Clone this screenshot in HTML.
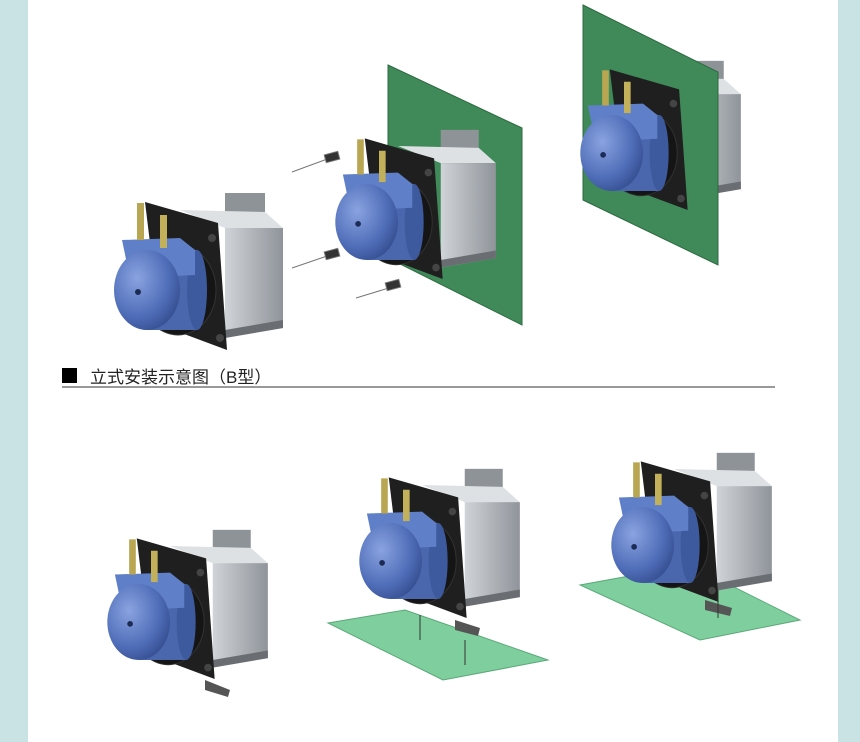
<!DOCTYPE html>
<html><head><meta charset="utf-8"><style>
html,body{margin:0;padding:0;width:860px;height:742px;background:#fff;overflow:hidden;font-family:"Liberation Sans","Noto Sans CJK SC",sans-serif}
</style></head><body>
<svg width="860" height="742" viewBox="0 0 860 742" xmlns="http://www.w3.org/2000/svg">
<defs>
<radialGradient id="bl" cx="0.35" cy="0.35" r="0.8"><stop offset="0" stop-color="#8aa3e0"/><stop offset="0.6" stop-color="#4f6db8"/><stop offset="1" stop-color="#2e4585"/></radialGradient>
<linearGradient id="gr" x1="0" x2="1"><stop offset="0" stop-color="#d0d4d8"/><stop offset="1" stop-color="#8f949a"/></linearGradient>
<g id="motor">
<rect x="125" y="3" width="40" height="22" fill="#8e9398"/>
<polygon points="80,20 165,22 183,38 125,38" fill="#dde1e4"/>
<polygon points="125,38 183,38 183,138 125,148" fill="url(#gr)"/>
<polygon points="125,140 183,130 183,138 125,148" fill="#6a6e73"/>
</g>
<g id="front">
<polygon points="45,12 118,33 127,160 60,135" fill="#1f1f1f"/>
<circle cx="112" cy="48" r="4" fill="#444"/><circle cx="120" cy="148" r="4" fill="#444"/>
<ellipse cx="78" cy="100" rx="38" ry="45" fill="#151515" stroke="#333"/>
<rect x="47" y="60" width="50" height="80" fill="#4a67ae"/>
<ellipse cx="97" cy="100" rx="10" ry="40" fill="#3e5a9e"/>
<polygon points="22,50 80,48 95,60 95,85 30,88" fill="#5f80c8"/>
<ellipse cx="47" cy="100" rx="33" ry="40" fill="url(#bl)"/>
<circle cx="38" cy="102" r="3" fill="#1d2c55"/>
<rect x="37" y="13" width="7" height="37" fill="#b9a652"/>
<rect x="60" y="25" width="7" height="33" fill="#c2b05a"/>
</g>
</defs>
<rect x="0" y="0" width="28" height="742" fill="#c9e3e5"/>
<rect x="838" y="0" width="22" height="742" fill="#c9e3e5"/>

<!-- pump 1 -->
<g transform="translate(100,190)"><use href="#motor"/><use href="#front"/></g>

<!-- middle: plate behind whole pump -->
<polygon points="388,65 522,128 522,325 388,258" fill="#3f8a58" stroke="#2c6a40"/>
<g transform="translate(322,127) scale(0.95)"><use href="#motor"/><use href="#front"/></g>
<g stroke="#777" stroke-width="1" fill="#333">
<line x1="292" y1="172" x2="330" y2="158"/><rect x="325" y="153" width="14" height="8" transform="rotate(-15 332 157)"/>
<line x1="292" y1="268" x2="330" y2="255"/><rect x="325" y="250" width="14" height="8" transform="rotate(-15 332 254)"/>
<line x1="356" y1="298" x2="392" y2="287"/><rect x="386" y="281" width="14" height="8" transform="rotate(-15 393 285)"/>
</g>

<!-- top right -->
<g transform="translate(567,58) scale(0.95)"><use href="#motor"/></g>
<polygon points="583,5 718,72 718,265 583,200" fill="#3f8a58" stroke="#2c6a40"/>
<g transform="translate(567,58) scale(0.95)"><use href="#front"/></g>

<!-- heading -->
<rect x="62" y="368" width="15" height="15" fill="#000"/>
<text x="90" y="383" font-size="17" fill="#222">立式安装示意图（B型）</text>
<rect x="62" y="386" width="713" height="2" fill="#999"/>

<!-- bottom plates -->
<polygon points="328,623 405,610 548,660 443,680" fill="#7fcf9e" stroke="#5aa878"/>
<polygon points="580,585 690,565 800,620 700,640" fill="#7fcf9e" stroke="#5aa878"/>

<g transform="translate(94,527) scale(0.95)"><use href="#motor"/><use href="#front"/></g>
<polygon points="205,680 230,690 228,697 205,690" fill="#555"/>
<g transform="translate(346,466) scale(0.95)"><use href="#motor"/><use href="#front"/></g>
<polygon points="455,620 480,628 478,636 455,630" fill="#555"/>
<line x1="420" y1="615" x2="420" y2="640" stroke="#333"/><line x1="465" y1="640" x2="465" y2="665" stroke="#333"/>
<g transform="translate(598,450) scale(0.95)"><use href="#motor"/><use href="#front"/></g>
<polygon points="705,600 732,608 730,616 705,610" fill="#555"/>
<line x1="718" y1="590" x2="718" y2="618" stroke="#333"/>
</svg>
</body></html>
